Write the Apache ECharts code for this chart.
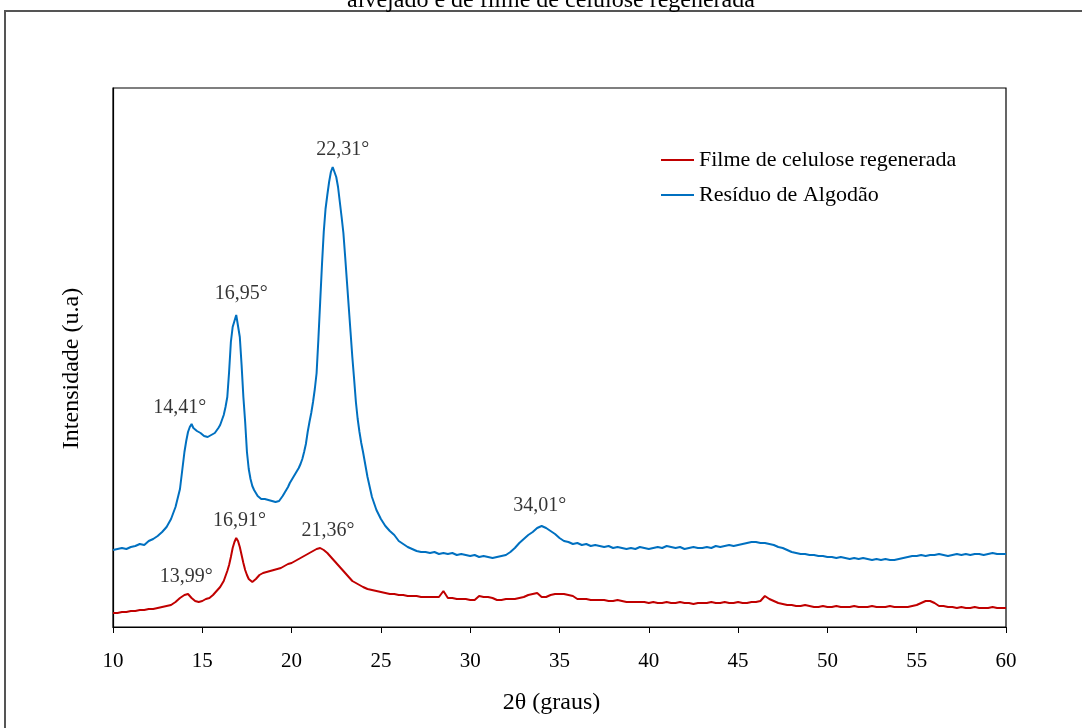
<!DOCTYPE html>
<html>
<head>
<meta charset="utf-8">
<script src="https://cdn.jsdelivr.net/npm/echarts@6/dist/echarts.min.js"></script>
<style>
html,body{margin:0;padding:0;background:#fff;}
#chart{width:1082px;height:728px;}
</style>
</head>
<body>
<div id="chart"></div>
<script>
// 2θ angles (degrees)
const angles = [
  10,10.25,10.5,10.75,11,11.25,11.5,11.75,12,12.25,12.5,12.75,13,13.25,13.5,13.75,
  14.0,14.1,14.2,14.3,14.4,14.5,14.6,14.7,14.8,14.9,
  15.0,15.1,15.2,15.3,15.4,15.5,15.6,15.7,15.8,15.9,
  16.0,16.1,16.2,16.3,16.4,16.5,16.6,16.7,16.8,16.9,
  17.0,17.1,17.2,17.3,17.4,17.5,17.6,17.7,17.8,17.9,
  18.0,18.1,18.2,18.3,18.4,18.5,18.6,18.7,18.8,18.9,
  19.0,19.1,19.2,19.3,19.4,19.5,19.6,19.7,19.8,19.9,
  20.0,20.1,20.2,20.3,20.4,20.5,20.6,20.7,20.8,20.9,
  21.0,21.1,21.2,21.3,21.4,21.5,21.6,21.7,21.8,21.9,
  22.0,22.1,22.2,22.3,22.4,22.5,22.6,22.7,22.8,22.9,
  23.0,23.1,23.2,23.3,23.4,23.5,23.6,23.7,23.8,23.9,
  24.0,
  24.25,24.5,24.75,25,25.25,25.5,25.75,26,26.25,26.5,26.75,27,27.25,27.5,27.75,
  28,28.25,28.5,28.75,29,29.25,29.5,29.75,30,30.25,30.5,30.75,31,31.25,31.5,31.75,
  32,32.25,32.5,32.75,33,33.25,33.5,33.75,34,34.25,34.5,34.75,35,35.25,35.5,35.75,
  36,36.25,36.5,36.75,37,37.25,37.5,37.75,38,38.25,38.5,38.75,39,39.25,39.5,39.75,
  40,40.25,40.5,40.75,41,41.25,41.5,41.75,42,42.25,42.5,42.75,43,43.25,43.5,43.75,
  44,44.25,44.5,44.75,45,45.25,45.5,45.75,46,46.25,46.5,46.75,47,47.25,47.5,47.75,
  48,48.25,48.5,48.75,49,49.25,49.5,49.75,50,50.25,50.5,50.75,51,51.25,51.5,51.75,
  52,52.25,52.5,52.75,53,53.25,53.5,53.75,54,54.25,54.5,54.75,55,55.25,55.5,55.75,
  56,56.25,56.5,56.75,57,57.25,57.5,57.75,58,58.25,58.5,58.75,59,59.25,59.5,59.75,
  60
];

// Resíduo de Algodão (blue), arbitrary units
const algodao = [
  77,78,79,78,80,81,83,82,86,88,91,95,100,108,120,138,
  175,186,195,200,203,199,198,196,197,194,
  193,191,190,190,191,192,192,194,196,199,
  202,207,212,220,230,255,285,300,306,312,
  314,290,262,230,205,175,158,148,141,137,
  134,131,130,128,127,128,126,127,125,126,
  124,125,123,126,128,131,134,137,140,144,
  147,150,153,156,159,163,168,175,183,195,
  205,214,225,238,254,288,325,362,395,418,
  432,445,455,460,458,450,440,425,410,394,
  370,345,320,295,270,248,225,208,195,184,
  175,
  150,130,117,108,101,96,92,86,83,80,78,76,75,75,74,
  75,73,74,73,74,72,73,72,71,72,70,71,70,69,70,71,
  72,75,79,84,88,92,95,99,101,99,96,93,89,86,85,83,
  84,82,83,81,82,81,80,81,79,80,79,78,79,78,80,79,
  78,79,80,79,81,80,79,80,78,79,80,79,79,80,79,81,
  80,81,82,81,82,83,84,85,85,84,84,83,82,80,79,77,
  75,74,73,73,72,72,71,71,70,70,69,70,69,68,69,68,
  69,68,67,68,67,68,67,67,68,69,70,71,71,72,71,72,
  72,73,72,71,72,73,72,73,72,73,73,72,73,74,73,73,
  73
];

// Filme de celulose regenerada (red), arbitrary units
const filme = [
  14,14,15,15,16,16,17,17,18,18,19,20,21,22,25,29,
  32,34,33,31,29,27,26,25,25,26,
  26,27,28,29,29,31,32,34,36,38,
  40,43,46,51,56,62,70,79,85,89,
  86,80,72,64,57,52,48,46,45,46,
  48,50,52,53,54,54,55,55,56,56,
  57,57,58,58,59,60,61,62,63,63,
  64,65,66,67,68,69,70,71,72,73,
  74,75,76,77,78,78,79,78,77,76,
  74,72,70,68,66,64,62,60,58,56,
  54,52,50,48,46,45,44,43,42,41,
  40,
  38,37,36,35,34,33,33,32,32,31,31,31,30,30,30,
  30,30,36,29,29,28,28,28,27,27,31,30,30,29,27,27,
  28,28,28,29,30,32,33,34,30,30,32,33,33,33,32,31,
  28,28,28,27,27,27,27,26,26,27,26,25,25,25,25,25,
  24,25,24,24,25,24,24,25,24,24,23,24,24,24,25,24,
  24,25,24,24,25,24,24,25,25,26,31,28,26,24,23,22,
  22,21,21,22,21,20,20,21,20,20,21,20,20,20,21,20,
  20,20,21,20,20,20,21,20,20,20,20,21,22,24,26,26,
  24,21,21,20,20,19,20,19,19,20,19,19,19,20,19,19,
  19
];

// Peak annotations
const bluePeakAngles = [14.41, 16.95, 22.31, 34.01];
const bluePeakValues = [203, 314, 460, 101];
const bluePeakTexts = ['14,41°', '16,95°', '22,31°', '34,01°'];
const redPeakAngles = [13.99, 16.91, 21.36];
const redPeakValues = [34, 89, 77];
const redPeakTexts = ['13,99°', '16,91°', '21,36°'];

const xTicks = ['10','15','20','25','30','35','40','45','50','55','60'];
const seriesNames = ['Filme de celulose regenerada', 'Resíduo de Algodão'];
const titleText = 'alvejado e de filme de celulose regenerada';

// styling (kept separate from data)
const blueOffsets = [[-12,-16],[4,-19],[10,-17],[-2,-20]];
const redOffsets = [[2,-16],[3,-17],[12,-19]];
const FONT = '"Liberation Serif", "Times New Roman", serif';

const pairs = (xs, ys) => xs.map((x, i) => [x, ys[i]]);
const peakData = (xs, ys, texts, offs) => xs.map((x, i) => ({
  value: [x, ys[i]],
  label: { formatter: texts[i], offset: offs[i] }
}));

const chart = echarts.init(document.getElementById('chart'), null, {renderer: 'canvas'});
chart.setOption({
  animation: false,
  backgroundColor: '#fff',
  grid: {
    left: 113, right: 76, top: 88, bottom: 101,
    show: true, borderColor: '#000', borderWidth: 1.2, backgroundColor: 'transparent'
  },
  graphic: [
    { type: 'rect', shape: { x: 5, y: 11, width: 1200, height: 800 },
      style: { fill: 'none', stroke: '#555', lineWidth: 2 }, silent: true, z: -1 },
    { type: 'text', x: 551, y: 13,
      style: { text: titleText, font: '24px ' + FONT, fill: '#000', align: 'center', verticalAlign: 'bottom' } }
  ],
  legend: {
    data: seriesNames,
    orient: 'vertical',
    left: 656, top: 144,
    itemWidth: 33, itemHeight: 2, itemGap: 13,
    icon: 'rect',
    textStyle: { fontFamily: FONT, fontSize: 22, color: '#000' }
  },
  xAxis: {
    type: 'value', min: 10, max: 60, interval: 5,
    name: '2θ (graus)', nameLocation: 'middle', nameGap: 64,
    nameTextStyle: { fontFamily: FONT, fontSize: 24, color: '#000', padding: [0, 16, 0, 0] },
    axisLine: { show: true, lineStyle: { color: '#000', width: 1.2 } },
    axisTick: { show: true, inside: false, length: 6, lineStyle: { color: '#000' } },
    axisLabel: { fontFamily: FONT, fontSize: 21, color: '#000', margin: 24,
      formatter: v => xTicks[xTicks.indexOf(String(v))] },
    splitLine: { show: false }
  },
  yAxis: {
    type: 'value', min: 0, max: 539,
    name: 'Intensidade (u.a)', nameLocation: 'middle', nameGap: 29,
    nameTextStyle: { fontFamily: FONT, fontSize: 24, color: '#000', padding: [0, 22, 0, 0] },
    axisLine: { show: true, lineStyle: { color: '#000', width: 1.2 } },
    axisTick: { show: false },
    axisLabel: { show: false },
    splitLine: { show: false }
  },
  series: [
    { name: seriesNames[0], type: 'line', data: pairs(angles, filme),
      showSymbol: false, symbol: 'none', lineStyle: { color: '#C00000', width: 2 },
      itemStyle: { color: '#C00000' }, z: 2 },
    { name: seriesNames[1], type: 'line', data: pairs(angles, algodao),
      showSymbol: false, symbol: 'none', lineStyle: { color: '#0070C0', width: 2 },
      itemStyle: { color: '#0070C0' }, z: 3 },
    { type: 'scatter', symbolSize: 0, silent: true, z: 5,
      data: peakData(bluePeakAngles, bluePeakValues, bluePeakTexts, blueOffsets),
      label: { show: true, position: 'inside', fontFamily: FONT, fontSize: 20, color: '#000' } },
    { type: 'scatter', symbolSize: 0, silent: true, z: 5,
      data: peakData(redPeakAngles, redPeakValues, redPeakTexts, redOffsets),
      label: { show: true, position: 'inside', fontFamily: FONT, fontSize: 20, color: '#000' } }
  ]
});
</script>
</body>
</html>
